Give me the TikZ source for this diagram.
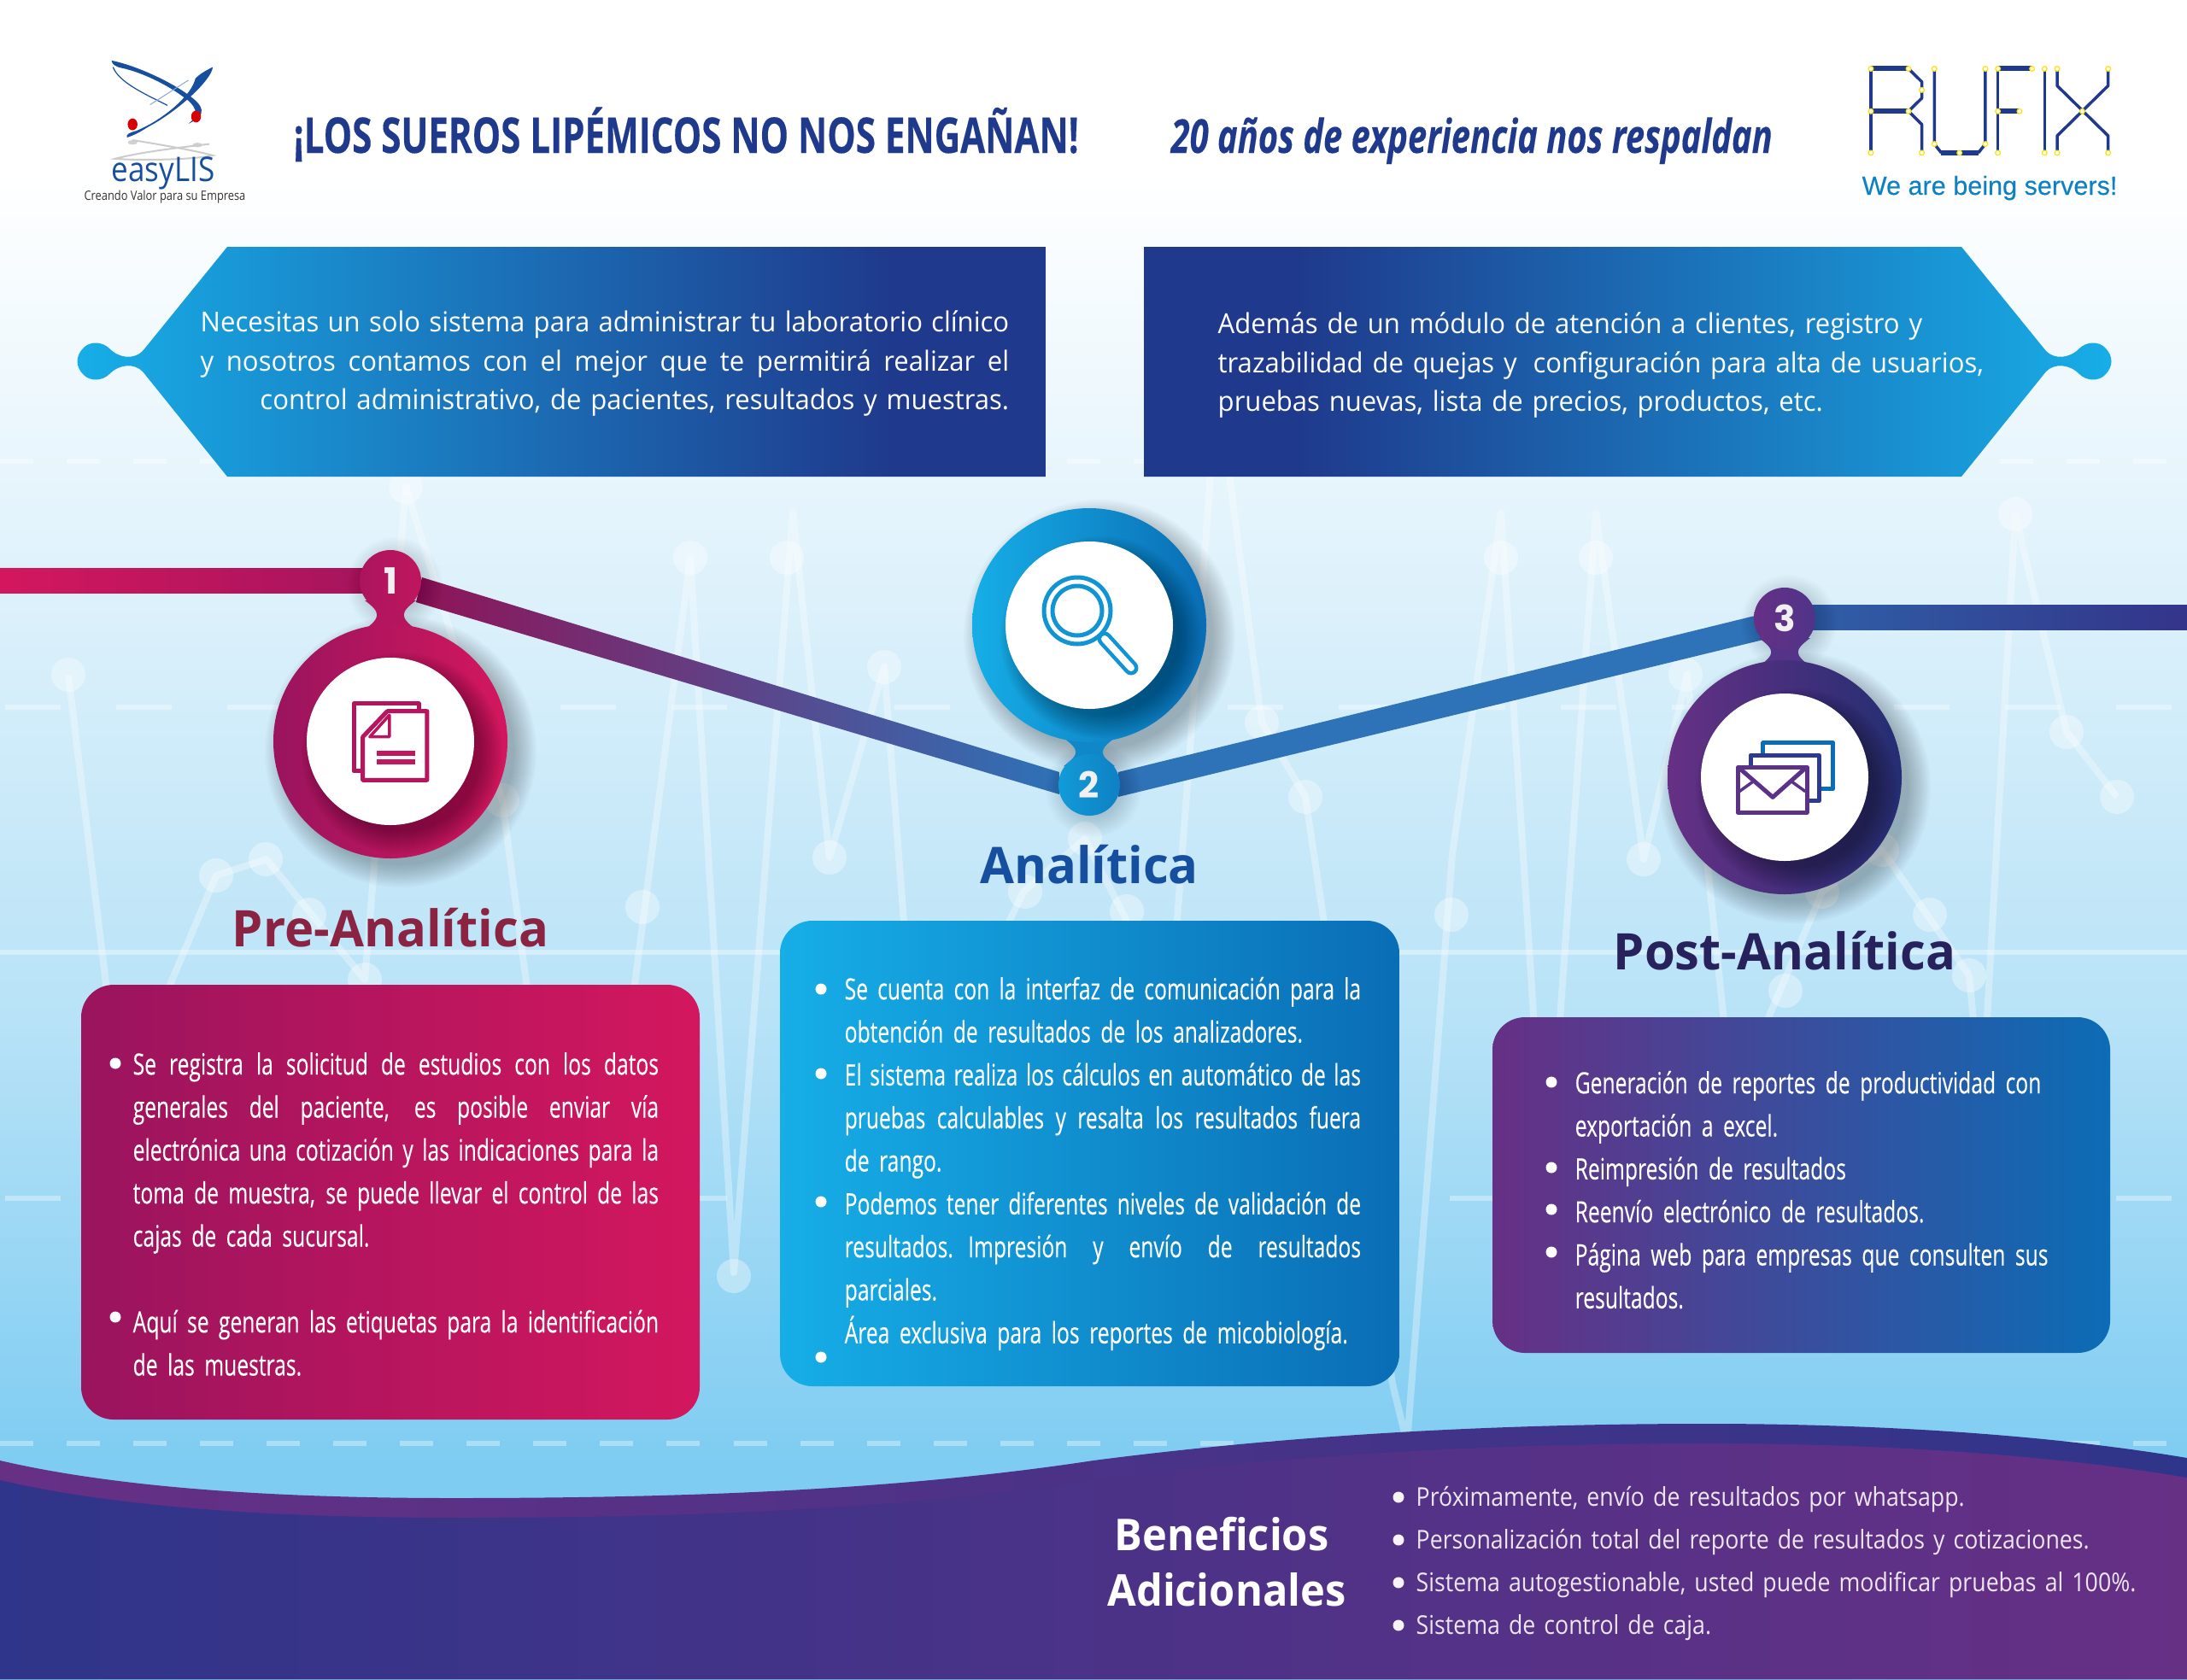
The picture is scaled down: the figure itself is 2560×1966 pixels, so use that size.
\documentclass[tikz,border=0pt]{standalone}
\usepackage{fontspec}
\usetikzlibrary{calc}
\setmainfont{Open Sans}
\newfontfamily\bodyf[FakeStretch=0.715,FakeBold=0.15]{Open Sans}
\newfontfamily\panelf[FakeStretch=0.96]{Open Sans}
\newfontfamily\headf[FakeStretch=0.73,FakeBold=0.3]{Open Sans}
\newfontfamily\headif[FakeStretch=0.727,FakeBold=0.2]{Open Sans}
\newfontfamily\titlef[FakeStretch=0.98]{Open Sans}
\newfontfamily\benef[FakeStretch=0.95]{Open Sans}
\newfontfamily\listf[FakeStretch=0.883]{Open Sans}
\newfontfamily\easyf[FakeStretch=0.88]{Open Sans}
\newfontfamily\creaf[FakeStretch=0.85]{Open Sans}
\newfontfamily\sansf[FakeBold=0.25]{Liberation Sans}
\newfontfamily\numf{Poppins}
\definecolor{cA}{HTML}{FFFFFF}
\definecolor{cB}{HTML}{E4F4FC}
\definecolor{cC}{HTML}{B7E2F7}
\definecolor{cD}{HTML}{7ECCF2}
\definecolor{navy}{HTML}{1F3A8C}
\definecolor{cyanb}{HTML}{17AEE8}
\definecolor{pinkA}{HTML}{9A145E}
\definecolor{pinkB}{HTML}{D3175E}
\definecolor{blueA}{HTML}{16AEE7}
\definecolor{blueB}{HTML}{0A6DB5}
\definecolor{purpA}{HTML}{663085}
\definecolor{purpM}{HTML}{2E3A8F}
\definecolor{purpB}{HTML}{0C6CB5}
\definecolor{waveB}{HTML}{2F358A}
\definecolor{ttlA}{HTML}{8B2342}
\definecolor{ttlB}{HTML}{164FA0}
\definecolor{ttlC}{HTML}{27215C}
\definecolor{bandA}{HTML}{8E1457}
\definecolor{bandB}{HTML}{6E3580}
\definecolor{bandC}{HTML}{2E72B8}
\definecolor{bandD}{HTML}{429FDC}
\definecolor{barL}{HTML}{2F62A8}
\definecolor{barR}{HTML}{34348A}
\pgfdeclareverticalshading{bgsh}{100bp}{color(0bp)=(cD);color(31.3bp)=(cD);color(44.5bp)=(cC);color(59.7bp)=(cB);color(69.9bp)=(cA);color(100bp)=(cA)}
\pgfdeclarehorizontalshading{panelLsh}{100bp}{color(0bp)=(cyanb);color(25bp)=(cyanb);color(67bp)=(navy);color(100bp)=(navy)}
\pgfdeclarehorizontalshading{panelRsh}{100bp}{color(0bp)=(navy);color(33bp)=(navy);color(75bp)=(cyanb);color(100bp)=(cyanb)}
\newcommand{\fs}{\rule{0pt}{12pt}}
\newcommand{\tw}{\spaceskip=.2em plus .1em minus .05em\relax}
\newcommand{\jl}[1]{\leavevmode\hbox to\hsize{\spaceskip=.2em plus 1fil minus .05em\relax #1}}
\newcommand{\softshadow}[4]{%
  \foreach \k in {0,2,...,26}{\fill[black,opacity=#4] ($(#1)+(#2,#2)$) circle ({#3+\k-4});}}
\newcommand{\neckshape}[4]{% x, y1, y2, colour
  \fill[#4] (#1-30,#2) .. controls (#1-11,#2+14) and (#1-11,#3-14) .. (#1-30,#3) -- (#1+30,#3) .. controls (#1+11,#3-14) and (#1+11,#2+14) .. (#1+30,#2) -- cycle;}
\tikzset{
  boxtext/.style={anchor=north west,inner sep=0pt,text=white,align=left,font=\bodyf\fontsize{9.8}{14.31}\selectfont\tw},
  paneltext/.style={anchor=north west,inner sep=0pt,text=white,font=\panelf\fontsize{9.2}{12.94}\selectfont\tw},
  stage/.style={anchor=base,inner sep=0pt,font=\titlef\bfseries\fontsize{16.8}{20}\selectfont},
  num/.style={anchor=center,inner sep=0pt,text=white!94!black,font=\numf\bfseries\fontsize{12}{14}\selectfont},
  bull/.style={white},
  ecg/.style={white,opacity=.33,line width=.08cm,line join=round},
  ecgdot/.style={white,opacity=.36},
  gridline/.style={white,opacity=.35,line width=.065cm},
  circ/.style={navy,line width=.035cm,line join=round},
  circb/.style={navy,line width=.06cm},
  pad/.style={draw=yellow!85!orange,fill=white,line width=.012cm},
}
\begin{document}
\begin{tikzpicture}[x=0.01cm,y=-0.01cm]
\useasboundingbox (0,0) rectangle (2560,1966);
\shade[shading=bgsh] (0,0) rectangle (2560,1966);
% grid lines
\draw[gridline,dash pattern=on .39cm off .39cm] (0,540) -- (2560,540);
\draw[gridline,dash pattern=on .65cm off .65cm] (6,828) -- (2560,828);
\draw[gridline] (0,1115) -- (2560,1115);
\draw[gridline,dash pattern=on .65cm off .65cm] (6,1403) -- (2560,1403);
\draw[gridline,dash pattern=on .39cm off .39cm] (0,1690) -- (2560,1690);
% ecg
\draw[ecg] (80,790) -- (141,1291) -- (253,1025) -- (312,1006) -- (427,1147) -- (475,570) -- (588,937) -- (680,1636) -- (808,653) -- (859,1490) -- (928,600) -- (971,1004) -- (1035,781) -- (1075,1300) -- (1198,1044) -- (1270,982) -- (1330,1100) -- (1350,1450) -- (1425,450) -- (1477,846) -- (1528,933) -- (1630,1620) -- (1647,1690) -- (1700,1000) -- (1757,600) -- (1810,1420) -- (1868,600) -- (1924,1006) -- (1975,790) -- (2028,1290) -- (2133,1044) -- (2203,995) -- (2305,1142) -- (2320,1300) -- (2359,602) -- (2419,857) -- (2478,933);
\foreach \p in {(80,790),(253,1025),(311,1006),(362,1071),(427,1147),(475,570),(588,937),(752,1062),(808,653),(921,653),(859,1494),(971,1004),(1035,781),(1200,1044),(1270,982),(1319,1067),(1477,846),(1528,933),(1699,1071),(1757,653),(1868,653),(1924,1006),(1973,790),(2090,1160),(2203,995),(2259,1071),(2305,1142),(2359,602),(2419,857),(2478,933),(2133,1044)}
  \fill[ecgdot] \p circle (20);
% wave
\shade[left color=purpA,right color=waveB] (0,1710) .. controls (150,1745) and (350,1754) .. (530,1754) .. controls (800,1754) and (1050,1745) .. (1280,1710) .. controls (1550,1675) and (1800,1667) .. (1998,1667) .. controls (2200,1667) and (2400,1680) .. (2560,1707) -- (2560,1966) -- (0,1966) -- cycle;
\shade[left color=waveB,right color=purpA] (0,1733) .. controls (150,1768) and (350,1777) .. (530,1777) .. controls (800,1777) and (1050,1768) .. (1280,1733) .. controls (1550,1698) and (1800,1690) .. (1998,1690) .. controls (2200,1690) and (2400,1703) .. (2560,1730) -- (2560,1966) -- (0,1966) -- cycle;
% logo easyLIS
\fill[white,opacity=.9] (96,71) rectangle (295,239);
\begin{scope}[x=0.00816cm,y=-0.003827cm]
  \fill[ttlB] (160,185) .. controls (195,200) and (245,250) .. (270,290) .. controls (290,320) and (300,350) .. (270,378) .. controls (288,350) and (280,320) .. (262,295) .. controls (240,260) and (205,222) .. (175,208) .. controls (165,204) and (160,195) .. (160,185) -- cycle;
  \draw[ttlB,line width=.012cm] (162,205) .. controls (170,250) and (205,285) .. (240,322);
  \fill[ttlB] (305,205) .. controls (303,245) and (255,340) .. (212,388) .. controls (200,405) and (190,415) .. (182,420) .. controls (180,412) and (185,405) .. (195,400) .. controls (235,365) and (275,290) .. (280,240) .. controls (285,228) and (295,215) .. (305,205) -- cycle;
  \draw[ttlB!50,line width=.01cm] (270,245) -- (215,320);
  \fill[red!85!black] (190,380) ellipse (7 and 18);
  \fill[red!85!black] (281,356) ellipse (7 and 18);
  \fill[black!18] (190,435) ellipse (7 and 7);
  \fill[black!18] (283,443) ellipse (7 and 7);
  \draw[black!20,line width=.02cm] (190,428) .. controls (240,445) and (290,465) .. (305,475) .. controls (270,490) and (190,490) .. (165,485) .. controls (200,465) and (260,450) .. (300,440);
\end{scope}
\node[anchor=base,inner sep=0pt,text=ttlB,font=\easyf\fontsize{11.3}{13}\selectfont] (easy) at (191,212) {easyLIS};
\node[anchor=base,inner sep=0pt,text=black!80,font=\creaf\fontsize{4.3}{5}\selectfont] (creando) at (193,234) {Creando Valor para su Empresa};
% headings
\node[anchor=base west,inner sep=0pt,text=navy,font=\headf\bfseries\fontsize{16.4}{20}\selectfont] (headA) at (343,179) {¡LOS SUEROS LIPÉMICOS NO NOS ENGAÑAN!};
\node[anchor=base west,inner sep=0pt,text=navy,font=\headif\bfseries\itshape\fontsize{15.6}{20}\selectfont] (headB) at (1370,179) {20 años de experiencia nos respaldan};
% RUFIX logo
\begin{scope}[shift={(1280,0)},x=0.00816cm,y=-0.003827cm]
  \draw[circ] (1114,210) -- (1114,467);
  \draw[circb] (1114,210) -- (1168,210);
  \draw[circ] (1168,210) -- (1187,250) -- (1187,300) -- (1168,340) -- (1187,380) -- (1187,467);
  \draw[circb] (1114,340) -- (1168,340);
  \draw[circ] (1205,210) -- (1205,440) -- (1215,467);
  \draw[circb] (1215,467) -- (1268,467);
  \draw[circ] (1268,467) -- (1278,440) -- (1278,210);
  \draw[circ] (1296,467) -- (1296,210);
  \draw[circb] (1296,210) -- (1345,210);
  \draw[circb] (1296,340) -- (1327,340);
  \draw[circ] (1363,210) -- (1363,467);
  \draw[circ] (1381,210) -- (1381,262) -- (1454,415) -- (1454,467);
  \draw[circ] (1454,210) -- (1454,262) -- (1381,415) -- (1381,467);
  \foreach \p in {(1114,210),(1168,210),(1187,275),(1114,340),(1168,340),(1114,467),(1187,467),(1205,210),(1278,210),(1205,440),(1278,440),(1241,467),(1296,210),(1345,210),(1296,340),(1327,340),(1296,467),(1363,210),(1363,467),(1381,210),(1454,210),(1417,340),(1381,467),(1454,467)}
    \draw[pad] \p ellipse (3.5 and 7.5);
\end{scope}
\node[anchor=base west,inner sep=0pt,text=blueB!70!cyanb,font=\sansf\fontsize{8.7}{10}\selectfont] (slogan) at (2179,228) {We are being servers!};
% top panels
\shade[shading=panelLsh] (1224,289) -- (266,289) -- (167,411) .. controls (157,421) and (140,420) .. (128,408) .. controls (120,400) and (106,399) .. (98,407) .. controls (88,417) and (88,429) .. (98,439) .. controls (106,447) and (120,446) .. (128,438) .. controls (140,426) and (157,425) .. (167,435) -- (266,558) -- (1224,558) -- cycle;
\shade[shading=panelRsh] (1339,289) -- (2296,289) -- (2395,411) .. controls (2405,421) and (2422,420) .. (2434,408) .. controls (2442,400) and (2456,399) .. (2464,407) .. controls (2474,417) and (2474,429) .. (2464,439) .. controls (2456,447) and (2442,446) .. (2434,438) .. controls (2422,426) and (2405,425) .. (2395,435) -- (2296,558) -- (1339,558) -- cycle;
\node[paneltext,text width=9.46cm,align=right] (panelL) at (234,346) {\fs\jl{Necesitas un solo sistema para administrar tu laboratorio clínico}\\ \jl{y nosotros contamos con el mejor que te permitirá realizar el}\\ control administrativo, de pacientes, resultados y muestras.};
\node[paneltext,text width=10cm,align=left] (panelR) at (1425,348) {\fs Además de un módulo de atención a clientes, registro y\\ trazabilidad de quejas y\hspace{.25em} configuración para alta de usuarios,\\ pruebas nuevas, lista de precios, productos, etc.};
% stage markers: coordinates
\coordinate (s1) at (457,680);
\coordinate (b1) at (457,868);
\coordinate (s2) at (1275,919);
\coordinate (b2) at (1275,732);
\coordinate (s3) at (2089,724);
\coordinate (b3) at (2089,910);
% connectors
\shade[left color=pinkB,right color=pinkA!85!pinkB] (0,665) rectangle (s1|-0,694);
\shade[left color=barL,middle color=barR,right color=barR] (s3|-0,708) rectangle (2560,737);
\shade[left color=bandA,middle color=bandB,right color=bandC] ($(s1)+(37,-4)$) -- ($(s2)+(-35,-15)$) -- ($(s2)+(-35,11)$) -- ($(s1)+(30,25)$) -- cycle;
\shade[left color=bandC,middle color=bandD,right color=bandC] ($(s2)+(34,-15)$) -- ($(s3)+(-35,-3)$) -- ($(s3)+(-25,25)$) -- ($(s2)+(34,14)$) -- cycle;
% shadows
\softshadow{b1}{12}{137}{.018}
\softshadow{b2}{12}{137}{.018}
\softshadow{b3}{12}{137}{.018}
\softshadow{s1}{5}{34}{.012}
\softshadow{s2}{5}{34}{.012}
\softshadow{s3}{5}{34}{.012}
% stage 1
\neckshape{457}{703}{737}{pinkA!55!pinkB}
\shade[left color=pinkA,right color=pinkB] (b1) circle (137);
\shade[left color=pinkA!70!pinkB,right color=pinkA!35!pinkB] (s1) circle (36);
\begin{scope}\clip (b1) circle (137); \softshadow{b1}{14}{96}{.024}\end{scope}
\fill[white] (b1) circle (98);
% stage 2
\neckshape{1275}{864}{897}{blueB!60!blueA}
\shade[left color=blueA,right color=blueB] (b2) circle (137);
\shade[left color=blueA!70!blueB,right color=blueB!70!blueA] (s2) circle (36);
\begin{scope}\clip (b2) circle (137); \softshadow{b2}{14}{96}{.024}\end{scope}
\fill[white] (b2) circle (98);
% stage 3
\neckshape{2089}{747}{780}{purpA!70!purpM}
\shade[left color=purpA,right color=purpM!80!black] (b3) circle (137);
\shade[left color=purpA,right color=purpA!60!purpM] (s3) circle (36);
\begin{scope}\clip (b3) circle (137); \softshadow{b3}{14}{96}{.024}\end{scope}
\fill[white] (b3) circle (98);
\node[num] (n1) at (s1) {1};
\node[num] (n2) at (s2) {2};
\node[num] (n3) at (s3) {3};
% document icon
\begin{scope}[shift={(0,580)},x=0.00816cm,y=-0.004464cm]
  \draw[pinkA!60!pinkB,line width=.05cm,line join=round] (520,722) -- (507,722) -- (507,545) -- (600,545) -- (600,565);
  \draw[pinkA!50!pinkB,line width=.05cm,line join=round] (555,565) -- (612,565) -- (612,745) -- (520,745) -- (520,632) -- cycle;
  \draw[pinkA!50!pinkB,line width=.035cm,line join=round] (530,632) -- (558,632) -- (558,575) -- cycle;
  \draw[pinkA!30!pinkB,line width=.055cm] (540,675) -- (595,675);
  \draw[pinkA!30!pinkB,line width=.055cm] (540,698) -- (595,698);
\end{scope}
% magnifier icon
\draw[blueA!60!blueB,line width=.05cm] (1261,715) circle (39);
\draw[blueA!60!blueB,line width=.05cm] (1261,715) circle (29);
\draw[blueA!60!blueB,line width=.17cm,line cap=round] (1293,748) -- (1324,782);
\draw[white,line width=.08cm,line cap=round] (1293,748) -- (1324,782);
% envelope icon
\begin{scope}[shift={(1100,580)},x=0.00931cm,y=-0.004464cm]
  \draw[blueB,line width=.05cm,line join=round] (1035,680) -- (1035,648) -- (1123,648) -- (1123,768) -- (1107,768);
  \draw[purpM,line width=.05cm,line join=round] (1019,712) -- (1019,680) -- (1105,680) -- (1105,800) -- (1090,800);
  \draw[purpA!80!purpM,line width=.05cm,line join=round] (1003,712) rectangle (1090,830);
  \draw[purpA!80!purpM,line width=.05cm,line join=round] (1005,714) -- (1047,790) -- (1088,714);
  \draw[purpA!80!purpM,line width=.035cm] (1005,775) -- (1025,745);
  \draw[purpA!80!purpM,line width=.035cm] (1088,775) -- (1068,745);
\end{scope}
% titles
\node[stage,text=ttlA] (t1) at (457,1108) {Pre-Analítica};
\node[stage,text=ttlB] (t2) at (1275,1034) {Analítica};
\node[stage,text=ttlC] (t3) at (2089,1135) {Post-Analítica};
% boxes
\shade[left color=pinkA,right color=pinkB,rounded corners=.38cm] (95,1153) rectangle (819,1662);
\shade[left color=blueA,right color=blueB,rounded corners=.38cm] (913,1078) rectangle (1638,1623);
\shade[left color=purpA,middle color=purpM,right color=purpB,rounded corners=.38cm] (1747,1191) rectangle (2470,1584);
\foreach \p in {(135,1245),(135,1542),(961,1158),(961,1257),(961,1407),(961,1589),(1816,1267),(1816,1367),(1816,1416),(1816,1466)}
  \fill[bull] \p circle (6.5);
\node[boxtext,text width=6.15cm] (txt1) at (155,1215.3) {\fs\jl{Se registra la solicitud de estudios con los datos}\\ \jl{generales del paciente, es posible enviar vía}\\ \jl{electrónica una cotización y las indicaciones para la}\\ \jl{toma de muestra, se puede llevar el control de las}\\ cajas de cada sucursal.\\[14.31pt] \jl{Aquí se generan las etiquetas para la identificación}\\ de las muestras.};
\node[boxtext,text width=6.04cm] (txt2) at (988,1127.3) {\fs\jl{Se cuenta con la interfaz de comunicación para la}\\ obtención de resultados de los analizadores.\\ \jl{El sistema realiza los cálculos en automático de las}\\ \jl{pruebas calculables y resalta los resultados fuera}\\ de rango.\\ \jl{Podemos tener diferentes niveles de validación de}\\ \jl{resultados. Impresión y envío de resultados}\\ parciales.\\ Área exclusiva para los reportes de micobiología.};
\node[boxtext,text width=6.2cm] (txt3) at (1843,1237.3) {\fs Generación de reportes de productividad con\\ exportación a excel.\\ Reimpresión de resultados\\ Reenvío electrónico de resultados.\\ Página web para empresas que consulten sus\\ resultados.};
% bottom
\node[anchor=base,inner sep=0pt,text=white,font=\benef\bfseries\fontsize{14.6}{18.5}\selectfont] (ben) at (1430,1815) {Beneficios};
\node[anchor=base,inner sep=0pt,text=white,font=\benef\bfseries\fontsize{14.6}{18.5}\selectfont] (adi) at (1436,1880) {Adicionales};
\foreach \p in {(1637,1753),(1637,1803),(1637,1853),(1637,1903)}
  \fill[bull,opacity=.95] \p circle (6.5);
\node[anchor=north west,inner sep=0pt,text=white!88!purpA,align=left,text width=9.2cm,font=\listf\fontsize{8.6}{14.22}\selectfont\tw] (list) at (1657,1720.8) {\fs Próximamente, envío de resultados por whatsapp.\\ Personalización total del reporte de resultados y cotizaciones.\\ Sistema autogestionable, usted puede modificar pruebas al 100\%.\\ Sistema de control de caja.};
\end{tikzpicture}
\end{document}
